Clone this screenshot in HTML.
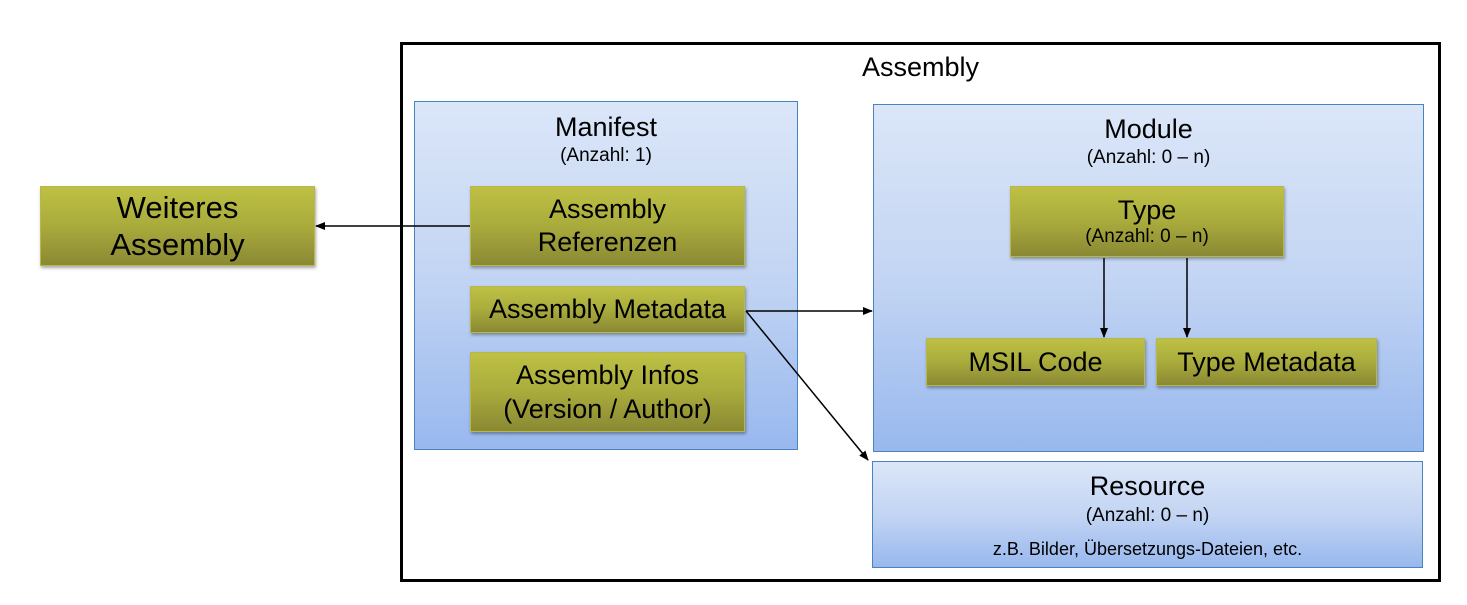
<!DOCTYPE html>
<html><head><meta charset="utf-8"><style>
html,body{margin:0;padding:0;background:#fff;width:1467px;height:605px;overflow:hidden;position:relative;font-family:"Liberation Sans",Arial,sans-serif;color:#000}
.abs{position:absolute;box-sizing:border-box}
.blue{background:linear-gradient(#dbe6f8,#c3d5f3 50%,#98b8ee);border:1.5px solid #4a84c0}
.green{background:linear-gradient(#bec144,#a9ab3c 50%,#8a8934);border:1px solid #b8b84a;box-shadow:1px 2px 3px rgba(0,0,0,.35);text-align:center;display:flex;flex-direction:column;justify-content:center;align-items:center;white-space:nowrap}
.t{position:absolute;left:0;right:0;text-align:center;white-space:nowrap}
</style></head><body>
<div class="abs" style="left:400px;top:42px;width:1041px;height:540px;border:3px solid #000"></div>
<div class="t" style="left:400px;width:1041px;top:51px;font-size:27px;line-height:32px">Assembly</div>

<div class="abs blue" style="left:414px;top:101px;width:384px;height:349px"></div>
<div class="t" style="left:414px;width:384px;top:111px;font-size:27px;line-height:32px">Manifest</div>
<div class="t" style="left:414px;width:384px;top:144px;font-size:19px;line-height:23px">(Anzahl: 1)</div>

<div class="abs green" style="left:470px;top:186px;width:275px;height:80px;font-size:27px;line-height:33px">Assembly<br>Referenzen</div>
<div class="abs green" style="left:470px;top:286px;width:275px;height:47px;font-size:27px">Assembly Metadata</div>
<div class="abs green" style="left:470px;top:352px;width:275px;height:80px;font-size:27px;line-height:34px">Assembly Infos<br>(Version / Author)</div>

<div class="abs green" style="left:40px;top:186px;width:275px;height:80px;font-size:31px;line-height:37px">Weiteres<br>Assembly</div>

<div class="abs blue" style="left:873px;top:104px;width:551px;height:348px"></div>
<div class="t" style="left:873px;width:551px;top:113px;font-size:27px;line-height:32px">Module</div>
<div class="t" style="left:873px;width:551px;top:146px;font-size:19px;line-height:23px">(Anzahl: 0 – n)</div>

<div class="abs green" style="left:1010px;top:186px;width:274px;height:71px"><div style="font-size:27px;line-height:30px">Type</div><div style="font-size:19px;line-height:24px">(Anzahl: 0 – n)</div></div>
<div class="abs green" style="left:926px;top:338px;width:219px;height:48px;font-size:27px">MSIL Code</div>
<div class="abs green" style="left:1156px;top:338px;width:221px;height:48px;font-size:27px">Type Metadata</div>

<div class="abs blue" style="left:872px;top:461px;width:551px;height:107px"></div>
<div class="t" style="left:872px;width:551px;top:470px;font-size:27px;line-height:32px">Resource</div>
<div class="t" style="left:872px;width:551px;top:504px;font-size:19px;line-height:23px">(Anzahl: 0 – n)</div>
<div class="t" style="left:872px;width:551px;top:538px;font-size:18px;line-height:22px">z.B. Bilder, Übersetzungs-Dateien, etc.</div>

<svg class="abs" style="left:0;top:0" width="1467" height="605">
<defs><marker id="a" markerWidth="10" markerHeight="8" refX="9" refY="4" orient="auto" markerUnits="userSpaceOnUse"><path d="M0,0 L10,4 L0,8 z" fill="#000"/></marker></defs>
<g stroke="#000" stroke-width="1.5" fill="none">
<line x1="470" y1="226" x2="316" y2="226" marker-end="url(#a)"/>
<line x1="746" y1="311" x2="872" y2="311" marker-end="url(#a)"/>
<line x1="746" y1="311" x2="868" y2="460" marker-end="url(#a)"/>
<line x1="1104" y1="258" x2="1104" y2="337" marker-end="url(#a)"/>
<line x1="1187" y1="258" x2="1187" y2="337" marker-end="url(#a)"/>
</g></svg>
</body></html>
